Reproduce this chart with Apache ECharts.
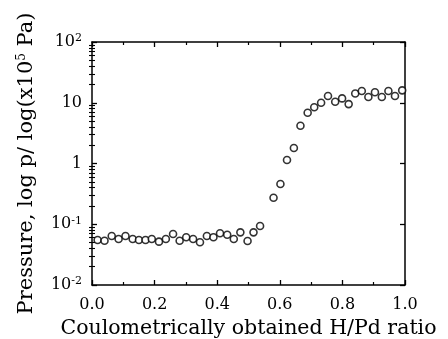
<!DOCTYPE html>
<html>
<head>
<meta charset="utf-8">
<script src="https://cdn.jsdelivr.net/npm/echarts@6/dist/echarts.min.js"></script>
<style>
html,body{margin:0;padding:0;background:#fff;}
#c{width:448px;height:339px;}
</style>
</head>
<body>
<div id="c"></div>
<script>
// H/Pd ratio (x) and pressure (x10^5 Pa)
const hpdRatio = [0.018,0.040,0.063,0.085,0.107,0.130,0.150,0.171,0.191,0.214,0.236,0.259,0.280,0.301,0.323,0.345,0.367,0.388,0.409,0.432,0.453,0.474,0.497,0.516,0.537,
  0.580,0.602,0.623,0.645,0.666,0.689,0.710,0.732,0.754,0.777,0.799,0.820,0.841,0.862,0.883,0.904,0.926,0.947,0.968,0.991];
const pressure = [0.0551,0.0536,0.064,0.0572,0.064,0.0572,0.0551,0.0551,0.0572,0.0517,0.0572,0.069,0.0536,0.061,0.0572,0.0505,0.064,0.061,0.071,0.067,0.0572,0.0736,0.053,0.0736,0.0935,
  0.273,0.46,1.14,1.80,4.19,6.86,8.41,10.0,12.9,10.4,11.8,9.5,14.2,15.6,12.4,14.9,12.4,15.6,12.9,16.0];
const xTickLabels = ['0.0','0.2','0.4','0.6','0.8','1.0'];
const yTickLabels = ['10{sup|-2}','10{sup|-1}','1','10','10{sup|2}'];
const yMinorTicks = [];
[0.01,0.1,1,10].forEach(function(d){ for (let k=2;k<=9;k++) yMinorTicks.push(+(d*k).toPrecision(3)); });

const FONT = 'DejaVu Serif';
const black = '#000';
const data = hpdRatio.map(function(x,i){ return [x, pressure[i]]; });

const supRich = { sup: { fontSize: 11, fontFamily: FONT, color: black, verticalAlign: 'top', padding: [0,0,7,0] } };

function xAx(pos, showLabel, name) {
  return {
    type: 'value', position: pos, min: 0, max: 1, interval: 0.2,
    axisLine: { show: true, onZero: false, lineStyle: { color: black, width: 1.5 } },
    axisTick: { show: true, inside: true, length: 5, lineStyle: { color: black, width: 1.3 } },
    minorTick: { show: true, splitNumber: 2, length: 3, lineStyle: { color: black, width: 1.2 } },
    splitLine: { show: false }, minorSplitLine: { show: false },
    axisLabel: { show: showLabel, margin: 12, fontFamily: FONT, fontSize: 16, color: black,
      formatter: function(v, i){ return xTickLabels[Math.round(v/0.2)]; } },
    name: name || '', nameLocation: 'middle', nameGap: 23,
    nameTextStyle: { fontFamily: FONT, fontSize: 20.5, color: black }
  };
}
function yMajor(pos, showLabel, name) {
  return {
    type: 'log', logBase: 10, position: pos, min: 0.01, max: 100,
    axisLine: { show: true, onZero: false, lineStyle: { color: black, width: 1.5 } },
    axisTick: { show: true, inside: true, length: 5, lineStyle: { color: black, width: 1.3 } },
    splitLine: { show: false },
    axisLabel: { show: showLabel, margin: 10, fontFamily: FONT, fontSize: 16, color: black,
      formatter: function(v){ const e = Math.round(Math.log10(v)); return yTickLabels[e+2]; },
      rich: supRich },
    name: name || '', nameLocation: 'middle', nameGap: 55,
    nameTextStyle: { fontFamily: FONT, fontSize: 21, color: black, rich: { sup: { fontSize: 12, fontFamily: FONT, color: black, verticalAlign: 'top', padding: [0,0,9,0] } } }
  };
}
function yMinor(pos) {
  return {
    type: 'log', logBase: 10, position: pos, min: 0.01, max: 100,
    axisLine: { show: false },
    axisTick: { show: true, inside: true, length: 3, customValues: yMinorTicks, lineStyle: { color: black, width: 1.1 } },
    splitLine: { show: false },
    axisLabel: { show: false }
  };
}

const chart = echarts.init(document.getElementById('c'), null, { renderer: 'canvas' });
chart.setOption({
  backgroundColor: '#fff',
  animation: false,
  grid: { left: 92, right: 43, top: 42, bottom: 54, outerBoundsMode: 'none', containLabel: false },
  xAxis: [ xAx('bottom', true, 'Coulometrically obtained H/Pd ratio'), xAx('top', false) ],
  yAxis: [ yMajor('left', true, 'Pressure, log p/ log(x10{sup|5} Pa)'), yMinor('left'), yMajor('right', false), yMinor('right') ],
  series: [{
    type: 'scatter', xAxisIndex: 0, yAxisIndex: 0, data: data,
    symbol: 'circle', symbolSize: 7,
    itemStyle: { color: '#fff', borderColor: black, borderWidth: 1.6 }
  }]
});
</script>
</body>
</html>
